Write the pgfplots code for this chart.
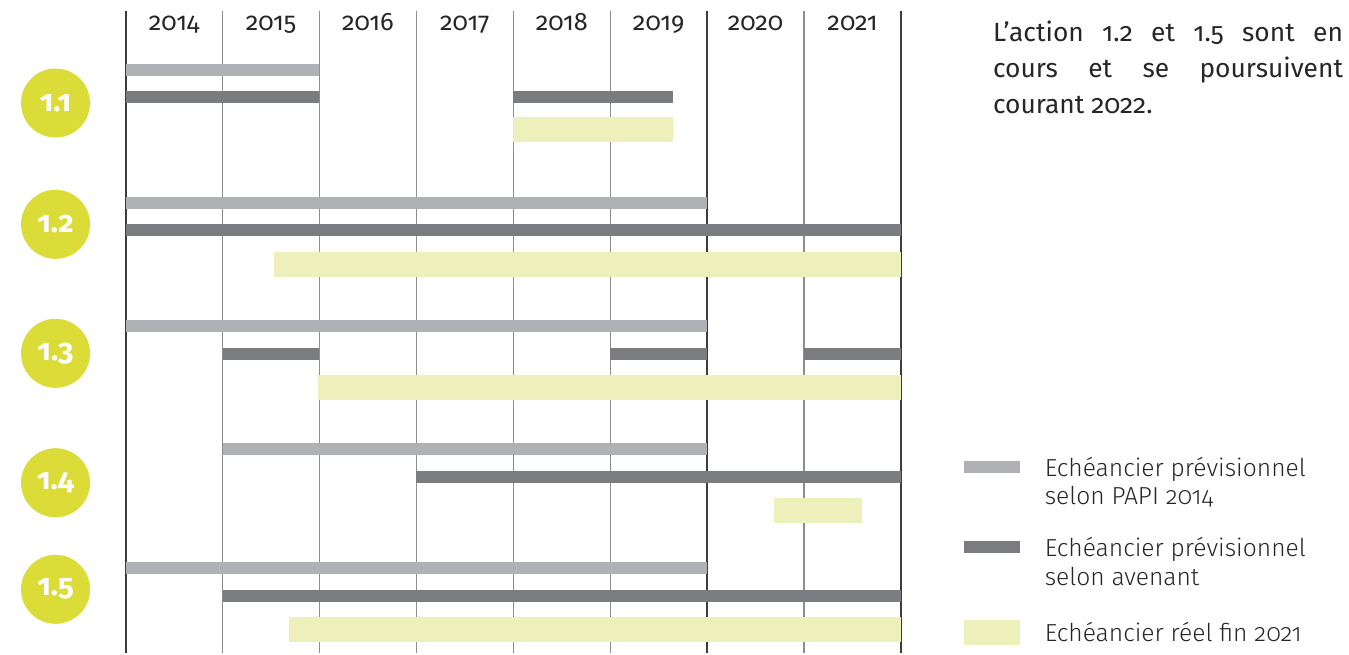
\documentclass[border=0pt]{standalone}
\usepackage{fontspec}
\setmainfont{Fira Sans}[Numbers=OldStyle]
\newfontfamily\lightfont{Fira Sans Light}[Numbers=OldStyle]
\usepackage{pgfplots}
\pgfplotsset{compat=1.18}

\definecolor{plan}{HTML}{B0B1B4}
\definecolor{aven}{HTML}{7B7C80}
\definecolor{reel}{HTML}{EDF0BA}
\definecolor{pastille}{HTML}{DBDC38}
\definecolor{grille}{HTML}{8E8E8E}
\definecolor{grillef}{HTML}{3C3C3C}

% 1 px of the reference = 0.1 mm
\pgfplotsset{
  pbar/.style={plan, line width=1.2mm, line cap=butt, forget plot},
  abar/.style={aven, line width=1.2mm, line cap=butt, forget plot},
  rbar/.style={reel, line width=2.5mm, line cap=butt, forget plot},
}
\tikzset{
  legtxt/.style={anchor=base west, inner sep=0pt, text=black!85,
    font=\lightfont\fontsize{7}{8}\selectfont},
}

\begin{document}
\begin{tikzpicture}
\begin{axis}[
  scale only axis, width=134.9mm, height=65.3mm,
  xmin=2012.703, xmax=2026.624, ymin=0, ymax=653, y dir=reverse,
  hide axis, clip=false,
]
\path (rel axis cs:0,0) rectangle (rel axis cs:1,1);

% year grid
\pgfplotsinvokeforeach{2015,2016,2017,2018,2019,2021}{
  \addplot[grille, line width=0.14mm, forget plot] coordinates {(#1,11) (#1,653)};
}
\pgfplotsinvokeforeach{2014,2020,2022}{
  \addplot[grillef, line width=0.2mm, forget plot] coordinates {(#1,11) (#1,653)};
}

% year labels
\pgfplotsinvokeforeach{2014,2015,2016,2017,2018,2019,2020,2021}{
  \node[font=\fontsize{7.2}{8}\selectfont, anchor=base, text=black!85] at (axis cs:#1.5,30) {#1};
}

% 1.1
\addplot[pbar] coordinates {(2014,70) (2016,70)};
\addplot[abar] coordinates {(2014,97) (2016,97)};
\addplot[abar] coordinates {(2018,97) (2019.645,97)};
\addplot[rbar] coordinates {(2018,129.5) (2019.645,129.5)};
% 1.2
\addplot[pbar] coordinates {(2014,203) (2020,203)};
\addplot[abar] coordinates {(2014,230) (2022,230)};
\addplot[rbar] coordinates {(2015.53,264) (2022,264)};
% 1.3
\addplot[pbar] coordinates {(2014,326) (2020,326)};
\addplot[abar] coordinates {(2015,354) (2016,354)};
\addplot[abar] coordinates {(2019,354) (2020,354)};
\addplot[abar] coordinates {(2021,354) (2022,354)};
\addplot[rbar] coordinates {(2015.98,387) (2022,387)};
% 1.4
\addplot[pbar] coordinates {(2015,449) (2020,449)};
\addplot[abar] coordinates {(2017,477) (2022,477)};
\addplot[rbar] coordinates {(2020.69,510) (2021.6,510)};
% 1.5
\addplot[pbar] coordinates {(2014,568) (2020,568)};
\addplot[abar] coordinates {(2015,596) (2022,596)};
\addplot[rbar] coordinates {(2015.69,629) (2022,629)};

% action markers
\addplot[only marks, mark=*, mark size=3.38mm,
  mark options={draw=pastille, fill=pastille},
  point meta=explicit symbolic, nodes near coords,
  nodes near coords style={anchor=center, text=white,
    font=\bfseries\fontsize{8.5}{9}\selectfont}]
  coordinates {(2013.276,103)[1.1] (2013.276,224.3)[1.2] (2013.276,353.3)[1.3]
               (2013.276,482.7)[1.4] (2013.276,589.3)[1.5]};

% legend swatches
\addplot[pbar] coordinates {(2022.651,467) (2023.229,467)};
\addplot[abar] coordinates {(2022.651,547) (2023.229,547)};
\addplot[rbar] coordinates {(2022.651,632) (2023.229,632)};

\node[legtxt] at (axis cs:2023.477,476) {Echéancier prévisionnel};
\node[legtxt] at (axis cs:2023.477,504) {selon PAPI 2014};
\node[legtxt] at (axis cs:2023.477,556) {Echéancier prévisionnel};
\node[legtxt] at (axis cs:2023.477,585) {selon avenant};
\node[legtxt] at (axis cs:2023.477,641) {Echéancier réel fin 2021};

% note
\node[anchor=base west, inner sep=0pt, text=black!85,
  font=\fontsize{7.5}{10.2}\selectfont]
  at (axis cs:2022.943,41.7)
  {\parbox[t]{35mm}{L’action 1.2 et 1.5 sont en\linebreak cours et se poursuivent\linebreak courant 2022.}};
\end{axis}
\end{tikzpicture}
\end{document}
